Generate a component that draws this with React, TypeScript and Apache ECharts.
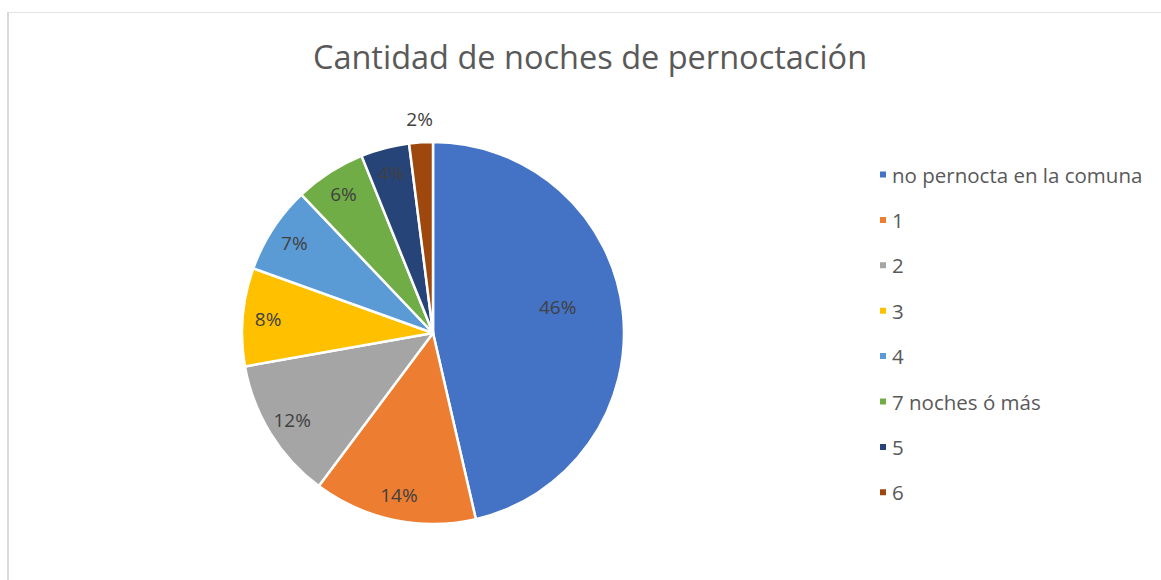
import React, { useEffect, useRef } from "react";
import * as echarts from "echarts";

const categories = ["no pernocta en la comuna", "1", "2", "3", "4", "7 noches ó más", "5", "6"];
const values = [46.4, 13.8, 12.0, 8.3, 7.4, 6.0, 4.1, 2.0];
const colors = ["#4472C4", "#ED7D31", "#A5A5A5", "#FFC000", "#5B9BD5", "#70AD47", "#264478", "#9E480E"];
const titleText = "Cantidad de noches de pernoctación";

const FONT = "'Open Sans', 'Noto Sans', sans-serif";
const CX = 433;
const CY = 333;
const R = 191;

export default function App() {
  const ref = useRef<HTMLDivElement>(null);
  useEffect(() => {
    if (!ref.current) return;
    const chart = echarts.init(ref.current, null, { renderer: "svg" });
    const total = values.reduce((a, b) => a + b, 0);
    const pct = (v: number) => Math.round((v / total) * 100) + "%";
    const labelSeries = (radius: number[], show: (i: number) => boolean, offset: number[] = [0, 0]) => ({
      type: "pie",
      center: [CX, CY],
      radius,
      startAngle: 90,
      clockwise: true,
      silent: true,
      animation: false,
      legendHoverLink: false,
      itemStyle: { color: "rgba(0,0,0,0)" },
      labelLine: { show: false },
      emphasis: { disabled: true },
      data: categories.map((c, i) => ({
        name: c,
        value: values[i],
        label: {
          show: show(i),
          position: "inside",
          offset,
          formatter: () => pct(values[i]),
          color: "#404040",
          fontSize: 19,
          fontFamily: FONT,
        },
      })),
    });
    chart.setOption({
      animation: false,
      color: colors,
      title: {
        text: titleText,
        left: 585,
        top: 35,
        textAlign: "center",
        textStyle: { color: "#595959", fontSize: 32.5, fontWeight: "normal", fontFamily: FONT },
      },
      legend: {
        orient: "vertical",
        left: 873,
        top: 159,
        itemWidth: 8,
        itemHeight: 8,
        itemGap: 24.4,
        icon: "rect",
        data: categories,
        textStyle: { color: "#595959", fontSize: 20.5, fontFamily: FONT },
      },
      graphic: [
        { type: "line", shape: { x1: 8, y1: 12.5, x2: 1161, y2: 12.5 }, style: { stroke: "#e3e3e3", lineWidth: 1 } },
        { type: "line", shape: { x1: 8, y1: 12, x2: 8, y2: 580 }, style: { stroke: "#d9d9d9", lineWidth: 2 } },
      ],
      series: [
        {
          type: "pie",
          center: [CX, CY],
          radius: [0, R],
          startAngle: 90,
          clockwise: true,
          label: { show: false },
          labelLine: { show: false },
          itemStyle: { borderColor: "#ffffff", borderWidth: 2.5 },
          data: categories.map((c, i) => ({ name: c, value: values[i] })),
        },
        labelSeries([110, 135], (i) => i === 0, [0, -12]),
        labelSeries([150, 175], (i) => i > 0 && i < 7),
        labelSeries([200, 222], (i) => i === 7),
      ],
    });
    return () => chart.dispose();
  }, []);
  return (
    <div style={{ position: "absolute", left: 0, top: 0, width: 1161, height: 580, background: "#fff" }}>
      <div ref={ref} style={{ width: 1161, height: 580 }} />
    </div>
  );
}
